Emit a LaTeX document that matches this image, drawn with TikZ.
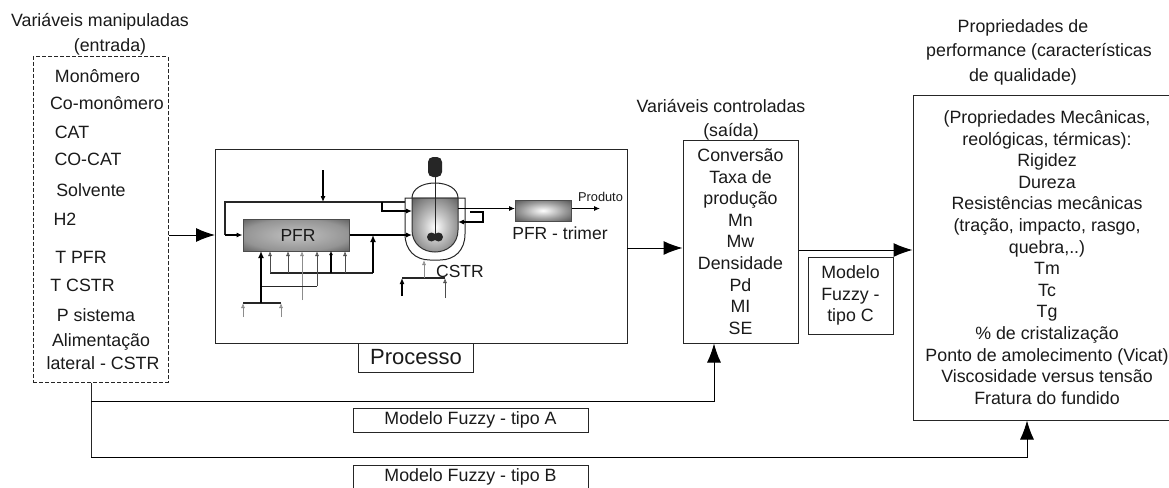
\documentclass[tikz,border=0pt]{standalone}
\usepackage{fontspec}
\setmainfont{Liberation Sans}
\usepackage{xcolor}
\usetikzlibrary{positioning,arrows.meta}
\definecolor{inkgray}{HTML}{1A1A1A}
\pgfdeclareradialshading{pfrshade}{\pgfpointorigin}{color(0bp)=(black!24);color(25bp)=(black!42);color(40bp)=(black!70);color(50bp)=(black!90)}
\pgfdeclareradialshading{trimshade}{\pgfpointorigin}{color(0bp)=(white);color(20bp)=(black!40);color(40bp)=(black!75);color(50bp)=(black!85)}
\pgfdeclareradialshading{vesselshade}{\pgfpoint{0bp}{-2bp}}{color(0bp)=(white);color(12bp)=(black!22);color(30bp)=(black!52);color(50bp)=(black!88)}

\begin{document}
\begin{tikzpicture}[
    x=1pt, y=-1pt,
    lbl/.style={inner sep=0pt, align=center, text=inkgray, font=\fontsize{17.8}{21.6}\selectfont},
    box/.style={draw=black!85, line width=1pt, inner sep=0pt, align=center, text=inkgray, font=\fontsize{17.8}{21.6}\selectfont},
    bigarrow/.style={-{Latex[length=19pt,width=14pt]}, line width=1pt},
    pipe/.style={line width=1pt, draw=black!85},
    heavypipe/.style={-{Latex[length=7pt,width=6pt]}, line width=1.6pt},
    feed/.style={-{Latex[open,length=5pt,width=4pt]}, line width=0.8pt, draw=black!70},
    tube/.style={-{Latex[length=6pt,width=5pt]}, line width=1.1pt},
  ]
    \useasboundingbox (0,0) rectangle (1169,487);
    \fill[white] (0,0) rectangle (1169,487);

    % entrada
    \node[box, dash pattern=on 4pt off 2pt, minimum width=135pt, minimum height=325pt] (entrada) at (100.5,219.5) {};
    \node[lbl] (tit1) at (100,22) {Variáveis manipuladas};
    \node[lbl] (tit2) at (110,47) {(entrada)};
    \node[lbl] (mono) at (97.5,76) {Monômero};
    \node[lbl] (como) at (107,103) {Co-monômero};
    \node[lbl] (cat) at (72,132) {CAT};
    \node[lbl] (cocat) at (88,159) {CO-CAT};
    \node[lbl] (solv) at (91,190) {Solvente};
    \node[lbl] (hdois) at (65,219) {H2};
    \node[lbl] (tpfr) at (81,257) {T PFR};
    \node[lbl] (tcstr) at (82.5,285) {T CSTR};
    \node[lbl] (psis) at (96,315) {P sistema};
    \node[lbl] (alim) at (101,342) {Alimentação};
    \node[lbl] (later) at (103,363) {lateral - CSTR};

    % processo
    \node[box, minimum width=412pt, minimum height=194pt] (proc) at (421,246) {};
    \node[box, minimum width=115.5pt, minimum height=29pt, font=\fontsize{22}{24}\selectfont] (proclbl) at (416,357.5) {Processo};
    \coordinate (procin) at (215,235);
    \coordinate (procout) at (627,248);

    \node[draw=black!70, line width=1pt, shade, shading=pfrshade, inner sep=0pt, minimum width=106pt, minimum height=32pt, text=inkgray, font=\fontsize{17.5}{19}\selectfont] (pfr) at (296,235) {\hspace*{4pt}PFR};
    \node[draw=black!70, line width=1pt, shade, shading=trimshade, inner sep=0pt, minimum width=56pt, minimum height=21pt] (trim) at (543,210.5) {};
    \node[lbl, font=\fontsize{17.5}{19}\selectfont] (trimlbl) at (560,233) {PFR - trimer};
    \node[lbl, font=\fontsize{12.8}{14}\selectfont] (prod) at (600.5,197) {Produto};
    \node[lbl, font=\fontsize{17.5}{19}\selectfont] (cstrlbl) at (460,271) {CSTR};

    % reator
    \draw[pipe] (405,198) -- (405,234) .. controls (405,250) and (415,260) .. (430,260) -- (440,260) .. controls (455,260) and (465,250) .. (465,234) -- (465,198) -- cycle;
    \draw[draw=black!80, line width=1pt, shade, shading=vesselshade] (412,198) -- (458,198) -- (458,230) .. controls (458,244) and (447,252) .. (435,252) .. controls (423,252) and (412,244) .. (412,230) -- cycle;
    \draw[pipe] (412,198) .. controls (412,189) and (422,183) .. (435,183) .. controls (448,183) and (458,189) .. (458,198);
    \node[fill=black!85, rounded corners=5pt, inner sep=0pt, minimum width=14pt, minimum height=20pt] (motor) at (435,167) {};
    \node[fill=black!85, circle, inner sep=0pt, minimum size=9pt] (heliA) at (431.5,237) {};
    \node[fill=black!85, circle, inner sep=0pt, minimum size=9pt] (heliB) at (438.5,237) {};
    \coordinate (helice) at (435,237);
    \draw[pipe] (motor) -- (helice);

    % correntes do reator
    \coordinate (topo) at (323,170);
    \coordinate (recA) at (323,202);
    \coordinate (recB) at (225,202);
    \coordinate (recC) at (225,235);
    \coordinate (recD) at (405,202);
    \coordinate (ramA) at (382,202);
    \coordinate (ramB) at (382,211);
    \coordinate (ramC) at (412,211);
    \coordinate (entC) at (412,235);
    \draw[tube] (topo) -- (recA);
    \draw[pipe, line width=1.1pt] (recD) -- (recB) -- (recC);
    \draw[tube] (recC) -- (pfr.west);
    \draw[tube] (ramA) -- (ramB) -- (ramC);
    \draw[tube] (pfr.east) -- (entC);

    \coordinate (saiA) at (458,208.5);
    \coordinate (saiB) at (515,208.5);
    \coordinate (saiC) at (600,208.5);
    \draw[tube] (saiA) -- (saiB);
    \draw[tube] (trim.east |- saiC) -- (saiC);
    \coordinate (lacA) at (470,212);
    \coordinate (lacB) at (483,212);
    \coordinate (lacC) at (483,222);
    \coordinate (lacD) at (458,222);
    \draw[tube] (lacA) -- (lacB) -- (lacC) -- (lacD);

    % alimentacao lateral do PFR
    \coordinate (manA) at (270,273);
    \coordinate (manB) at (373,273);
    \draw[pipe, line width=1.1pt] (manA) -- (manB);
    \draw[heavypipe] (manB) -- (373,235);
    \draw[feed] (manA) -- (270,251);
    \draw[feed] (288,273) -- (288,251);
    \draw[feed, draw=black!45] (302,300) -- (302,251);
    \draw[feed] (317,286) -- (317,251);
    \draw[tube, -{Latex[length=4pt,width=4pt]}] (331,273) -- (331,251);
    \draw[feed] (345,273) -- (345,251);
    \coordinate (manC) at (261,286);
    \coordinate (manD) at (317,286);
    \draw[pipe] (manC) -- (manD);
    \coordinate (baseA) at (243,303);
    \coordinate (baseB) at (281,303);
    \coordinate (baseC) at (261,303);
    \draw[pipe, line width=1.1pt] (baseA) -- (baseB);
    \draw[heavypipe] (baseC) -- (261,251);
    \draw[feed, draw=black!45] (243,317) -- (baseA);
    \draw[feed, draw=black!45] (281,317) -- (baseB);

    % alimentacao do CSTR
    \coordinate (cstA) at (402,278);
    \coordinate (cstB) at (445,278);
    \draw[pipe, line width=1.1pt] (cstA) -- (cstB);
    \draw[heavypipe, -{Latex[length=6pt,width=5pt]}] (402,296) -- (cstA);
    \draw[feed] (445,298) -- (cstB);
    \draw[feed, draw=black!45] (424,278) -- (424,260);

    % saida
    \node[lbl] (tit3) at (721,106) {Variáveis controladas};
    \node[lbl] (tit4) at (731,132) {(saída)};
    \node[box, minimum width=115pt, minimum height=203pt] (saida) at (740.5,241.5) {Conversão\\Taxa de\\produção\\Mn\\Mw\\Densidade\\Pd\\MI\\SE};

    % propriedades
    \node[lbl] (tit5) at (1023,28) {Propriedades de};
    \node[lbl] (tit6) at (1039,52) {performance (características};
    \node[lbl] (tit7) at (1023,77) {de qualidade)};
    \node[box, minimum width=268pt, minimum height=325pt] (props) at (1047,257.5) {(Propriedades Mecânicas,\\reológicas, térmicas):\\Rigidez\\Dureza\\Resistências mecânicas\\(tração, impacto, rasgo,\\quebra,..)\\Tm\\Tc\\Tg\\\% de cristalização\\Ponto de amolecimento (Vicat)\\Viscosidade versus tensão\\Fratura do fundido};

    \node[box, minimum width=85pt, minimum height=77pt] (fuzzyc) at (850.5,295.5) {Modelo\\Fuzzy -\\tipo C};
    \node[box, minimum width=235pt, minimum height=24pt] (fuzzya) at (470.5,420) {Modelo Fuzzy - tipo A};
    \node[box, minimum width=235pt, minimum height=24pt] (fuzzyb) at (470.5,477) {Modelo Fuzzy - tipo B};

    % ligacoes principais
    \coordinate (saiy) at (800,250);
    \coordinate (desA) at (91,401);
    \coordinate (desB) at (91,457.5);
    \coordinate (desC) at (714,401);
    \coordinate (desD) at (1027,457.5);
    \draw[bigarrow] (entrada.east |- procin) -- (procin);
    \draw[bigarrow] (procout) -- (saida.west |- procout);
    \draw[bigarrow] (saida.east |- saiy) -- (props.west |- saiy);
    \draw[pipe] (entrada.south -| desA) -- (desB);
    \draw[bigarrow] (desA) -- (desC) -- (saida.south -| desC);
    \draw[bigarrow] (desB) -- (desD) -- (props.south -| desD);
  \end{tikzpicture}
\end{document}
